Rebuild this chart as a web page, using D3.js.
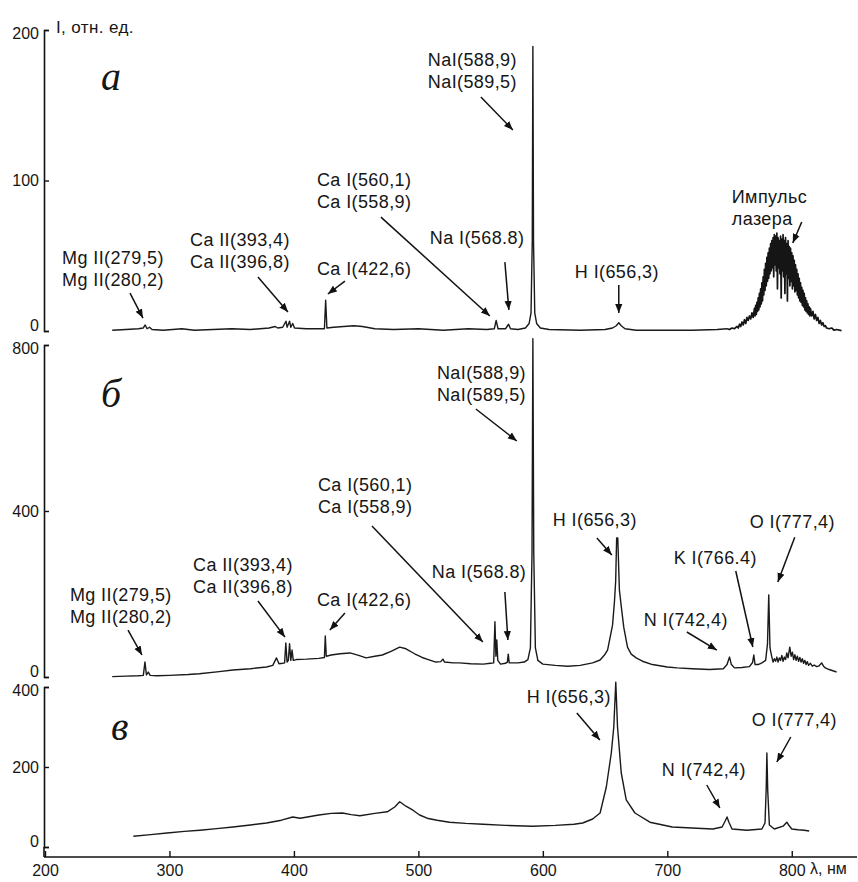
<!DOCTYPE html>
<html>
<head>
<meta charset="utf-8">
<script src="https://cdn.jsdelivr.net/npm/d3@7"></script>
<style>
  body { margin: 0; background: #fff; }
  text { font-family: "Liberation Sans", Arial, sans-serif; fill: #161616; }
  .lbl { font-size: 18px; letter-spacing: 0.4px; }
  .tick text { font-size: 16px; }
  .panel { font-family: "Liberation Serif", "DejaVu Serif", serif; font-style: italic; font-size: 40px; }
</style>
</head>
<body>
<script>
// wavelength axis, nm
var xTicks = [200, 300, 400, 500, 600, 700, 800];
var ticksA = [0, 100, 200];
var ticksB = [0, 400, 800];
var ticksC = [0, 200, 400];

// panel a: [wavelength, intensity]
var spectrumA = [
  [254, 0.5], [265, 1], [275, 1.5], [279, 2], [280.5, 4], [282, 1.5], [284, 2.5], [286, 1],
  [295, 0.5], [310, 1.5], [320, 0.5], [335, 1], [350, 1.5], [365, 1], [380, 2], [385, 3],
  [387, 2], [391, 2.5], [393.6, 6.5], [394.5, 2.5], [396.5, 6.5], [397.5, 2.5], [399, 5],
  [400.5, 2], [410, 1.5], [424.5, 1.5], [425.5, 20.5], [426.5, 2], [432, 2.5], [440, 3],
  [448, 3.5], [455, 3], [465, 1.5], [480, 1], [500, 1.5], [520, 0.5], [540, 1.5], [555, 1],
  [561, 1.5], [562.5, 7], [564, 1.5], [570, 1.5], [572.5, 4.5], [574, 1.5], [580, 1],
  [586, 2], [589, 5], [590.5, 12], [591.5, 60], [592, 189], [592.5, 60], [593.5, 12],
  [595, 5], [598, 2], [605, 1], [630, 0.5], [650, 1], [656, 2], [659, 3.5], [661, 5.5],
  [663, 3.5], [666, 1.5], [675, 0.5], [700, 0.5], [720, 0.5], [740, 1], [748, 1.5]
];

// panel a: laser pulse, noisy
var laserA = [
  [750, 1], [752, 2], [754, 1.5], [756, 3], [757, 2], [758, 4.5], [759, 3], [760, 6], [761, 4],
  [762, 7.5], [763, 5], [764, 9], [765, 7], [766, 10], [767, 8], [768, 12], [769, 9],
  [770, 15], [770.5, 10], [771, 17], [771.5, 11], [772, 19], [772.5, 13], [773, 22], [773.5, 14],
  [774, 25], [774.5, 16], [775, 28], [775.5, 18], [776, 32], [776.5, 20], [777, 36], [777.5, 24],
  [778, 41], [778.5, 27], [779, 45], [779.5, 30], [780, 49], [780.5, 33], [781, 52], [781.5, 35],
  [782, 55], [782.5, 38], [783, 58], [783.5, 40], [784, 60], [784.5, 42], [785, 62], [785.5, 36],
  [786, 64], [786.5, 44], [787, 63], [787.5, 40], [788, 65], [788.5, 28], [789, 62], [789.5, 42],
  [790, 60], [790.5, 38], [791, 63], [791.5, 22], [792, 61], [792.5, 40], [793, 64], [793.5, 36],
  [794, 60], [794.5, 25], [795, 62], [795.5, 38], [796, 58], [796.5, 20], [797, 60], [797.5, 35],
  [798, 56], [798.5, 30], [799, 55], [799.5, 33], [800, 52], [800.5, 28], [801, 50], [801.5, 30],
  [802, 47], [802.5, 26], [803, 44], [803.5, 27], [804, 41], [804.5, 24], [805, 38], [805.5, 22],
  [806, 35], [806.5, 20], [807, 32], [807.5, 19], [808, 29], [808.5, 17], [809, 27], [809.5, 16],
  [810, 25], [810.5, 14], [811, 22], [811.5, 13], [812, 20], [812.5, 12], [813, 18], [813.5, 11],
  [814, 16], [814.5, 10], [815, 15], [816, 10], [817, 13], [818, 8], [819, 11], [820, 7],
  [821, 9], [822, 5], [823, 7], [824, 4], [825, 5.5], [826, 3], [827, 3.5], [828, 2],
  [830, 1.5], [832, 2], [834, 0.5], [836, 1], [840, 0.3]
];

// panel б
var spectrumB = [
  [254, 1], [265, 2], [275, 3], [279, 4], [280.3, 36], [281.5, 5], [283, 12], [284.5, 4],
  [290, 3], [300, 4], [315, 6], [324, 8], [340, 13], [351, 17], [365, 20], [378, 24], [383, 28],
  [386, 46], [388, 32], [391, 33], [392.5, 34], [393.5, 82], [394.5, 36], [395.5, 40],
  [396.5, 80], [397.5, 40], [398.5, 65], [399.5, 40], [402, 42], [410, 43], [420, 45],
  [424.5, 47], [425.2, 99], [426, 50], [430, 53], [437, 56], [445, 58], [452, 52], [458, 46],
  [465, 50], [471, 53], [478, 62], [485, 72], [490, 68], [497, 56], [503, 47], [508, 42],
  [514, 36], [518, 37], [519.7, 43], [521, 36], [528, 34], [533, 34], [542, 32], [552, 31],
  [558, 33], [560.5, 34], [561.5, 133], [562.3, 50], [563, 89], [563.8, 40], [566, 31],
  [570, 33], [571.5, 36], [572.2, 55], [573, 34], [580, 34], [585, 36], [588, 42], [590, 70],
  [591.3, 300], [592, 815], [592.7, 300], [594, 70], [596, 40], [600, 31], [610, 28], [620, 26],
  [630, 28], [640, 34], [646, 41], [650, 55], [652, 65], [654, 95], [656, 125], [657.5, 180],
  [658.5, 230], [659.3, 335], [660.2, 335], [661.5, 210], [663, 170], [665, 120], [668, 72],
  [671, 55], [675, 46], [680, 38], [688, 30], [700, 24], [708, 22], [720, 20], [734, 18],
  [745, 20], [748, 30], [750, 48], [751.5, 30], [754, 22], [760, 23], [766, 25], [768.5, 35],
  [769.5, 53], [770.5, 30], [773, 30], [776, 34], [779, 40], [780.5, 80], [781.5, 198],
  [782.5, 70], [784, 48], [785, 36], [786, 44], [787, 38], [788, 48], [789, 36], [790, 46],
  [791, 40], [792, 52], [793, 38], [794, 48], [795, 42], [796, 58], [797, 46], [798.4, 72],
  [799.5, 50], [800.5, 60], [801.5, 42], [802.5, 54], [803.5, 40], [804.5, 50], [805.5, 38],
  [806.5, 47], [807.5, 36], [808.5, 44], [809.5, 33], [810.5, 40], [811.5, 30], [812.5, 37],
  [813.5, 28], [815, 33], [816.5, 26], [818, 29], [820, 25], [822, 27], [824, 34], [825.5, 26],
  [827, 22], [830, 18], [833, 15], [836, 12]
];

// panel в
var spectrumC = [
  [271, 27], [285, 31], [298, 35], [312, 39], [324.5, 42], [338, 46], [351, 50], [365, 55],
  [378, 60], [390, 67], [399, 75], [405, 72], [420, 80], [430, 84], [439, 85], [446, 81],
  [453, 78], [465, 84], [475, 88], [481, 100], [485, 113], [490, 102], [495.6, 92], [501, 80],
  [507, 72], [515, 67], [525, 62], [538, 59], [552, 57], [570, 54], [592, 52], [610, 54],
  [625, 57], [632, 60], [640, 70], [646, 85], [651, 150], [655, 235], [657, 300], [658.6, 412],
  [660, 300], [663, 185], [667, 118], [674, 85], [686, 62], [704, 50], [723.7, 47],
  [736.6, 45], [744, 50], [746.5, 65], [748, 75], [749.5, 62], [752, 45], [764, 42],
  [776, 45], [778.5, 60], [779.5, 150], [780, 235], [780.7, 140], [782, 55], [786, 45],
  [793, 52], [796, 62], [797.5, 55], [800, 45], [805, 43], [810, 42], [814, 40]
];

// annotations: text lines, label anchor, arrow from -> to (data units of each panel)
var notesA = [
  { lines: ["Mg II(279,5)", "Mg II(280,2)"], at: [213.7, 48.5], from: [268.3, 25.2], to: [278.7, 8.6] },
  { lines: ["Ca II(393,4)", "Ca II(396,8)"], at: [316.5, 60.5], from: [371.1, 35.9], to: [395.2, 12.6] },
  { lines: ["Ca I(422,6)"], at: [418.5, 41.2], from: [441, 33.2], to: [427.3, 24.6] },
  { lines: ["Ca I(560,1)", "Ca I(558,9)"], at: [418.5, 100.3], from: [469.9, 75.7], to: [557.4, 10] },
  { lines: ["Na I(568.8)"], at: [509.2, 61.8], from: [569.5, 45.8], to: [572.7, 14] },
  { lines: ["NaI(588,9)", "NaI(589,5)"], at: [507.6, 180], from: [550.2, 155.5], to: [575.9, 133.6] },
  { lines: ["H I(656,3)"], at: [625.7, 39.2], from: [661, 30.6], to: [661, 12] },
  { lines: ["Импульс", "лазера"], at: [751.8, 89], from: [808, 72.4], to: [800.8, 58.5] }
];
var notesB = [
  { lines: ["Mg II(279,5)", "Mg II(280,2)"], at: [220, 197.6], from: [266.7, 113], to: [277.9, 53] },
  { lines: ["Ca II(393,4)", "Ca II(396,8)"], at: [318.9, 270], from: [371.1, 183], to: [392.8, 96] },
  { lines: ["Ca I(422,6)"], at: [418.5, 185.5], from: [441, 154], to: [428.9, 113] },
  { lines: ["Ca I(560,1)", "Ca I(558,9)"], at: [419.3, 462.7], from: [462.7, 364], to: [551.8, 84.3] },
  { lines: ["Na I(568.8)"], at: [510.8, 253], from: [569.5, 204.8], to: [571.9, 89] },
  { lines: ["NaI(588,9)", "NaI(589,5)"], at: [514.9, 732.5], from: [546.2, 645.8], to: [579.1, 568.7] },
  { lines: ["H I(656,3)"], at: [608, 378.3], from: [643.4, 335], to: [655.4, 294] },
  { lines: ["O I(777,4)"], at: [766.3, 373.5], from: [802.4, 337], to: [788.8, 229] },
  { lines: ["K I(766.4)"], at: [705.2, 286.7], from: [755, 255.4], to: [768.7, 72.3] },
  { lines: ["N I(742,4)"], at: [681.1, 137.3], from: [715.7, 108.4], to: [739.8, 65] }
];
var notesC = [
  { lines: ["H I(656,3)"], at: [587.1, 375], from: [627.3, 335], to: [645.8, 267.5] },
  { lines: ["O I(777,4)"], at: [767.9, 317.5], from: [799.2, 275], to: [788, 212.5] },
  { lines: ["N I(742,4)"], at: [695.6, 192.5], from: [731.7, 155], to: [742.2, 97.5] }
];

var width = 858, height = 882;
var svg = d3.select("body").append("svg")
  .attr("width", width)
  .attr("height", height);

svg.append("defs").append("marker")
  .attr("id", "head")
  .attr("viewBox", "0 0 10 10")
  .attr("refX", 10).attr("refY", 5)
  .attr("markerWidth", 6).attr("markerHeight", 6)
  .attr("markerUnits", "strokeWidth")
  .attr("orient", "auto")
  .append("path")
  .attr("d", "M0,1 L10,5 L0,9 Z")
  .attr("fill", "#111");

var x = d3.scaleLinear().domain([200, 850]).range([45, 854]);
var axisX = 44;

var panels = [
  { name: "а", y: d3.scaleLinear().domain([0, 200]).range([331, 30]), ticks: ticksA, data: spectrumA, extra: laserA, notes: notesA, letter: [101, 90] },
  { name: "б", y: d3.scaleLinear().domain([0, 800]).range([677, 345]), ticks: ticksB, data: spectrumB, notes: notesB, letter: [101, 407] },
  { name: "в", y: d3.scaleLinear().domain([0, 400]).range([847, 687]), ticks: ticksC, data: spectrumC, notes: notesC, letter: [111, 740] }
];

panels.forEach(function (p) {
  var g = svg.append("g");
  var top = p.y.domain()[1];

  // y axis, ticks pointing inside
  g.append("g")
    .attr("transform", "translate(" + axisX + ",0)")
    .call(d3.axisLeft(p.y).tickValues(p.ticks).tickSize(-5).tickSizeOuter(-5).tickPadding(5))
    .call(function (a) {
      a.select(".domain").attr("stroke", "#111").attr("stroke-width", 1.6);
      a.selectAll(".tick line").attr("stroke", "#111").attr("stroke-width", 1.4);
      a.selectAll(".tick text").attr("fill", "#161616")
        .attr("dy", function (d) { return d === 0 ? "-0.05em" : (d === top ? "0.5em" : "0.32em"); });
    });

  // spectrum
  var line = d3.line()
    .x(function (d) { return x(d[0]); })
    .y(function (d) { return p.y(d[1]); });
  g.append("path")
    .datum(p.data)
    .attr("d", line)
    .attr("fill", "none")
    .attr("stroke", "#1a1a1a")
    .attr("stroke-width", 1.4)
    .attr("stroke-linejoin", "round");
  if (p.extra) {
    g.append("path")
      .datum(p.data.slice(-1).concat(p.extra))
      .attr("d", line)
      .attr("fill", "none")
      .attr("stroke", "#151515")
      .attr("stroke-width", 1.7)
      .attr("stroke-linejoin", "round");
  }

  // panel letter
  g.append("text")
    .attr("class", "panel")
    .attr("x", p.letter[0])
    .attr("y", p.letter[1])
    .text(p.name);

  // annotations
  p.notes.forEach(function (n) {
    var t = g.append("text")
      .attr("class", "lbl")
      .attr("x", x(n.at[0]))
      .attr("y", p.y(n.at[1]) + 6);
    n.lines.forEach(function (s, i) {
      t.append("tspan")
        .attr("x", x(n.at[0]))
        .attr("dy", i === 0 ? 0 : 22)
        .text(s);
    });
    g.append("line")
      .attr("x1", x(n.from[0])).attr("y1", p.y(n.from[1]))
      .attr("x2", x(n.to[0])).attr("y2", p.y(n.to[1]))
      .attr("stroke", "#111")
      .attr("stroke-width", 1.5)
      .attr("marker-end", "url(#head)");
  });
});

// bottom panel axis joins the x axis
svg.append("line")
  .attr("x1", axisX).attr("x2", axisX)
  .attr("y1", 847).attr("y2", 857)
  .attr("stroke", "#111").attr("stroke-width", 1.6);

// x axis
svg.append("g")
  .attr("transform", "translate(0,857)")
  .call(d3.axisBottom(x).tickValues(xTicks).tickSize(-6).tickSizeOuter(0).tickPadding(8))
  .call(function (a) {
    a.select(".domain").attr("stroke", "#111").attr("stroke-width", 1.6)
      .attr("d", "M" + axisX + ",0H" + 857);
    a.selectAll(".tick line").attr("stroke", "#111").attr("stroke-width", 1.4);
  });

svg.append("text")
  .attr("class", "lbl")
  .attr("x", 56).attr("y", 33)
  .style("font-size", "17px")
  .text("I, отн. ед.");

svg.append("text")
  .attr("class", "lbl")
  .attr("x", 810).attr("y", 874)
  .style("font-size", "16px")
  .style("letter-spacing", "0px")
  .text("λ, нм");
</script>
</body>
</html>
